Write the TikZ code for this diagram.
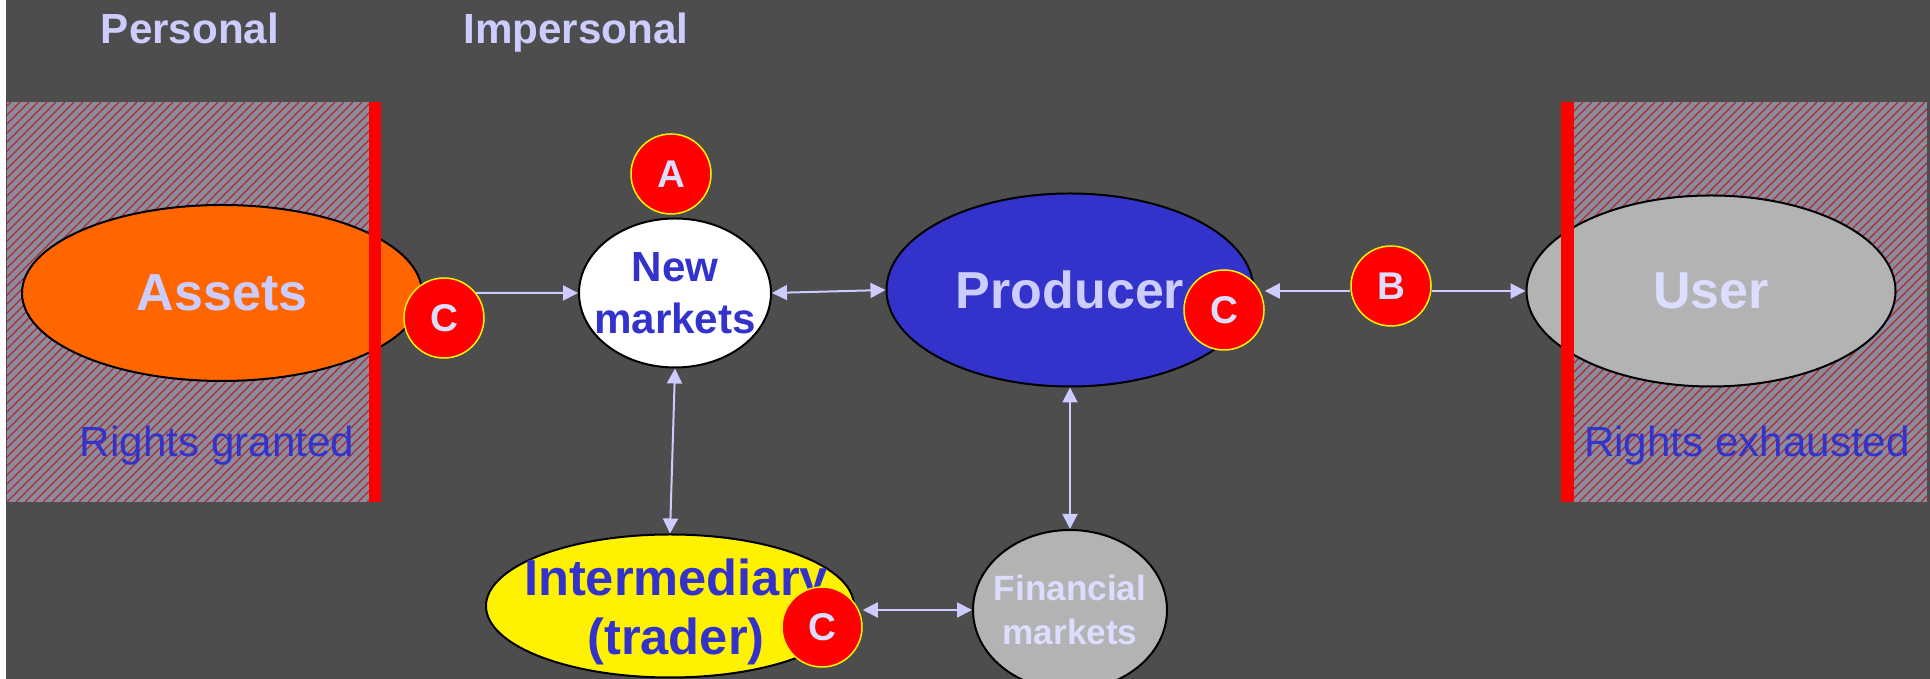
\documentclass[tikz,border=0pt]{standalone}
\usepackage{fontspec}
\setmainfont{Liberation Sans}
\usepackage{tikz}
\usetikzlibrary{arrows.meta,positioning,shapes.geometric}
\definecolor{slate}{HTML}{4D4D4D}
\definecolor{lilac}{HTML}{CCCCFF}
\definecolor{paleblue}{HTML}{DDDDFF}
\definecolor{royal}{HTML}{3333CC}
\definecolor{hatchgray}{HTML}{8C8CA0}
\definecolor{stripe}{HTML}{B02A2A}
\definecolor{silver}{HTML}{B3B3B3}
\definecolor{tangerine}{HTML}{FF6600}
\tikzset{
  blob/.style={ellipse,draw=black,line width=0.2mm,inner sep=0pt},
  big/.style={font=\bfseries\fontsize{14.8}{17}\selectfont},
  badge/.style={circle,fill=red,draw=yellow,line width=0.15mm,minimum size=8mm,
    inner sep=0pt,text=paleblue,font=\bfseries\fontsize{11}{13}\selectfont},
  heading/.style={anchor=base,text=lilac,font=\bfseries\fontsize{12}{14}\selectfont},
  zone/.style={anchor=base,text=royal,font=\fontsize{12}{14}\selectfont},
  bar/.style={fill=red}
}
\tikzstyle{link} = [draw=lilac,line width=0.2mm,{Triangle[length=1.5mm,width=1.5mm]}-{Triangle[length=1.5mm,width=1.5mm]}]
\tikzstyle{oneway} = [draw=lilac,line width=0.2mm,-{Triangle[length=1.5mm,width=1.5mm]}]

\begin{document}
\begin{tikzpicture}[x=0.1mm,y=-0.1mm]
  \def\top{102} \def\bot{502}
  \useasboundingbox (0,0) rectangle (1930,679);
  \clip (0,0) rectangle (1930,679);

  \fill[slate] (0,0) rectangle (1930,679);
  \fill[white] (0,0) rectangle (6,679);

  % hatched zones on both sides
  \foreach \xa/\xb in {7/369,1561/1927}{
    \begin{scope}
      \clip (\xa,\top) rectangle (\xb,\bot);
      \fill[hatchgray] (\xa,\top) rectangle (\xb,\bot);
      \foreach \s in {-405,-396,...,400}
        \draw[stripe,line width=0.12mm] (\xa+\s,\bot) -- ++(400,-400);
    \end{scope}
  }

  \node[heading] (personal)   at (190,44) {Personal};
  \node[heading] (impersonal) at (576,44) {Impersonal};

  \node[blob,fill=tangerine,minimum width=40mm,minimum height=17.6mm,text=lilac,big] (assets) at (222,293) {Assets};
  \node[blob,fill=silver,minimum width=36.9mm,minimum height=19.1mm,text=paleblue,big] (user) at (1711,291) {User};

  \fill[bar] (369,\top) rectangle (381,\bot);   % left border
  \fill[bar] (1561,\top) rectangle (1574,\bot); % right border

  \node[zone] (granted)   at (217,457)  {Rights granted};
  \node[zone] (exhausted) at (1747,457) {Rights exhausted};

  % ellipses first, their text on top
  \node[blob,fill=white,minimum width=19.2mm,minimum height=14.9mm] (newmkt) at (675,293) {};
  \node[blob,fill=royal,minimum width=36.7mm,minimum height=19.3mm] (producer) at (1070,290) {};
  \node[blob,fill=yellow,minimum width=36.8mm,minimum height=14.3mm] (trader) at (670,606) {};
  \node[blob,fill=silver,minimum width=19.4mm,minimum height=16mm] (finance) at (1070,610) {};

  \node[align=center,text=royal,font=\bfseries\fontsize{12}{14.8}\selectfont] (newmkttext) at (newmkt) {New\\markets};
  \node[text=lilac,big] (producertext) at (producer) {Producer};
  \node[align=center,text=royal,font=\bfseries\fontsize{14.4}{16.8}\selectfont] (tradertext) at (676,612) {Intermediary\\(trader)};
  \node[align=center,text=paleblue,font=\bfseries\fontsize{10}{12.5}\selectfont] (financetext) at (finance) {Financial\\markets};

  \node[badge] (ca) at (444,318)  {C};
  \node[badge] (a)  at (671,174)  {A};
  \node[badge] (cp) at (1224,310) {C};
  \node[badge] (b)  at (1391,286) {B};
  \node[badge] (ct) at (822,627)  {C};

  \draw[oneway] (ca.38) -- (newmkt.west);
  \draw[link] (newmkt.east) -- (producer.west);
  \draw[oneway] (b.west |- user.west) -- (cp.east |- user.west);
  \draw[oneway] (b.east |- user.west) -- (user.west);
  \draw[link] (newmkt.south) -- (trader.north);
  \draw[link] (producer.south) -- (finance.north);
  \draw[link] (ct.east |- finance.west) -- (finance.west);
\end{tikzpicture}
\end{document}
